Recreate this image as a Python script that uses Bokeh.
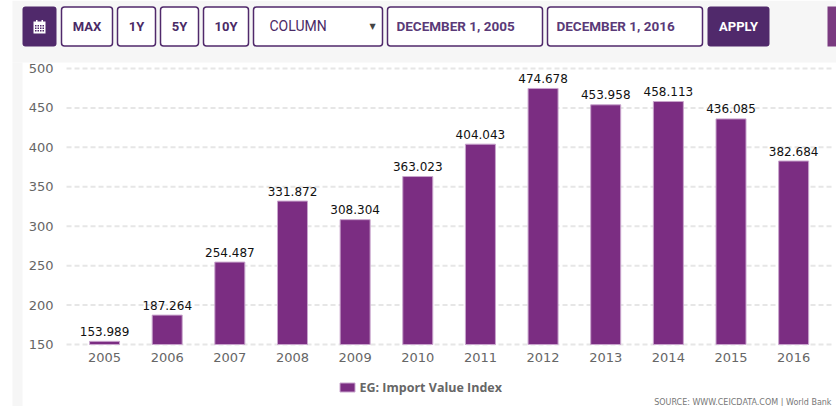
from bokeh.plotting import figure
from bokeh.models import BoxAnnotation, Label, FixedTicker, Range1d, ColumnDataSource
from bokeh.core.properties import value
from bokeh.embed import file_html
from bokeh.resources import INLINE

years = [2005, 2006, 2007, 2008, 2009, 2010, 2011, 2012, 2013, 2014, 2015, 2016]
values = [153.989, 187.264, 254.487, 331.872, 308.304, 363.023, 404.043, 474.678, 453.958, 458.113, 436.085, 382.684]
labels = ["153.989", "187.264", "254.487", "331.872", "308.304", "363.023", "404.043", "474.678", "453.958", "458.113", "436.085", "382.684"]
y_ticks = [150, 200, 250, 300, 350, 400, 450, 500]
series_name = "EG: Import Value Index"
source_note = "SOURCE: WWW.CEICDATA.COM | World Bank"
buttons = ["MAX", "1Y", "5Y", "10Y"]
W, H = 836, 406
DARK = "#50296b"
PURPLE = "#7b2d82"
PLOT_X0, PLOT_X1 = 2004.393, 2016.62

# the frame fills the canvas; axes sit at fixed locations inside it
p = figure(width=W, height=H, output_backend="svg", toolbar_location=None,
           x_range=Range1d(2003.339, 2016.684), y_range=Range1d(71.38, 586.23),
           min_border_left=0, min_border_right=0, min_border_top=0, min_border_bottom=0,
           outline_line_color=None, background_fill_color="white", border_fill_color="white")


def box(x0, x1, y0, y1, fill, line=None, radius=0, lw=1.5, level="annotation"):
    p.add_layout(BoxAnnotation(left=x0, right=x1, top=H - y0, bottom=H - y1,
                               left_units="screen", right_units="screen", top_units="screen", bottom_units="screen",
                               fill_color=fill, fill_alpha=1, line_color=line, line_alpha=1 if line else 0,
                               line_width=lw, border_radius=radius, level=level))


def text(x, y, s, color=DARK, size=13, style="normal", font="Roboto", align="center"):
    p.add_layout(Label(x=x, y=H - y, x_units="screen", y_units="screen", text=s,
                       text_color=color, text_font=font, text_font_size=f"{size}px", text_font_style=style,
                       text_align=align, text_baseline="middle"))


# page panels
box(12, W, 0, 62, "#f6f6f6", level="underlay")
box(12, 22, 62, H, "#f6f6f6", level="underlay")

# control bar
box(22, 56, 6, 46, DARK, None, 3)
box(33, 45, 21, 33, "white")
for yy in (24.5, 27, 29.5):
    for xx in (34.5, 37, 39.5, 42):
        box(xx, xx + 1.5, yy, yy + 1.5, DARK)
for xx in (35.5, 41):
    box(xx, xx + 1.5, 19.5, 22, "white")

spans = [(61, 112), (117, 155), (160, 198), (203, 248)]
for (a, b), s in zip(spans, buttons):
    box(a, b, 6.5, 45.5, "white", DARK, 3)
    text((a + b) / 2, 26, s, style="bold", color="#4a2a66")

box(253, 382, 6.5, 45.5, "white", DARK, 3)
text(269, 25, "COLUMN", align="left", size=14, color="#4a2a66")
text(372, 26, "▼", size=8, color="#444444", font="DejaVu Sans")

box(387, 542, 6.5, 45.5, "white", DARK, 3)
text(396, 25, "DECEMBER 1, 2005", align="left", size=13.5, style="bold", color="#5a3a78")
box(547, 702, 6.5, 45.5, "white", DARK, 3)
text(556, 25, "DECEMBER 1, 2016", align="left", size=13.5, style="bold", color="#5a3a78")
box(707, 769, 6, 46, DARK, None, 3)
text(738, 26, "APPLY", color="white", style="bold")
box(827, W, 6, 46, "#7a3a80")

# grid lines, limited to the plot width
p.segment(x0=[PLOT_X0] * len(y_ticks), x1=[PLOT_X1] * len(y_ticks), y0=y_ticks, y1=y_ticks,
          line_color="#e6e6e6", line_width=2, line_dash="5 3", level="underlay")

# chart
src = ColumnDataSource(dict(x=years, top=values, label=labels))
bars = p.vbar(x="x", top="top", bottom=150, width=0.479, source=src,
              fill_color=PURPLE, line_color="#c9a5cd", line_width=1)
p.text(x="x", y="top", text="label", source=src, text_align="center", text_baseline="middle",
       y_offset=-10, text_font=value("DejaVu Sans"), text_font_size="12px", text_color="#111111")

p.xaxis.ticker = FixedTicker(ticks=years)
p.yaxis.ticker = FixedTicker(ticks=y_ticks)
p.xaxis.fixed_location = 150
p.yaxis.fixed_location = PLOT_X0
for ax in (p.xaxis[0], p.yaxis[0]):
    ax.axis_line_color = None
    ax.major_tick_line_color = None
    ax.minor_tick_line_color = None
    ax.major_label_text_font = "DejaVu Sans"
    ax.major_label_text_font_size = "13px"
    ax.major_label_text_color = "#666666"
p.yaxis.major_label_standoff = 7
p.xaxis.major_label_standoff = 2
p.xgrid.grid_line_color = None
p.ygrid.grid_line_color = None

# legend
box(339.5, 354.5, 382.5, 391.5, PURPLE, "#c9a5cd", 0, 1)
text(359, 387, series_name, color="#666666", size=12.5, style="bold", font="Open Sans", align="left")

text(831, 402, source_note, color="#777777", size=8, font="DejaVu Sans", align="right")

open("out.html", "w").write(file_html(p, INLINE))
